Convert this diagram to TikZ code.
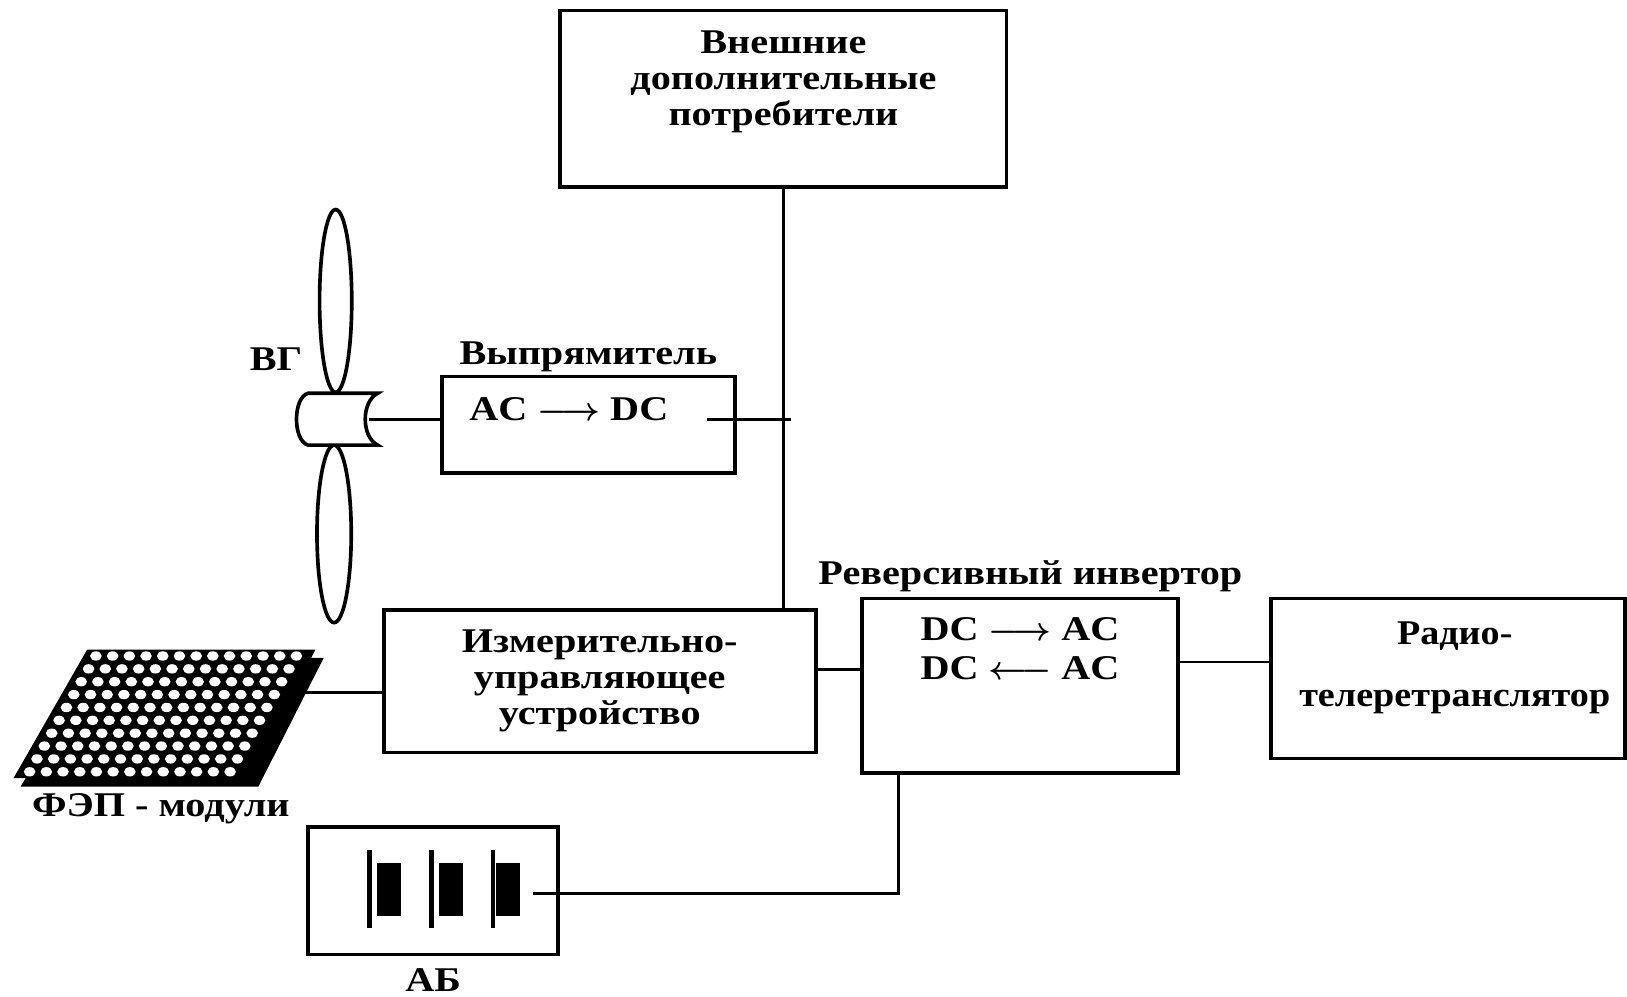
\documentclass[tikz,border=0pt]{standalone}
\usepackage{fontspec}
\setmainfont{Liberation Serif}[FakeStretch=1.16]
\newfontfamily\radiofont{Liberation Serif}[FakeStretch=1.1]
\usetikzlibrary{positioning,calc}
\tikzset{>=stealth}
\tikzset{blk/.style={draw,rectangle,line width=1pt,inner sep=0pt},
         lbl/.style={inner sep=0pt,align=center,font=\bfseries\boldmath\fontsize{9.5}{9.9}\selectfont}}

\begin{document}
\begin{tikzpicture}[x=0.01cm,y=-0.01cm,line width=0.8pt]
    \useasboundingbox (0,0) rectangle (1568,960);
    % blocks
    \node[blk,minimum width=4.30cm,minimum height=1.70cm] (ext) at (755,95) {};
    \node[lbl,below=0.2cm of ext.north] (exttxt) {Внешние\\дополнительные\\потребители};
    \node[blk,minimum width=2.82cm,minimum height=0.93cm] (rect) at (567,409.5) {};
    \node[lbl,above=0.01cm of rect] (recttxt) {Выпрямитель};
    \node[lbl,anchor=west] (acdc) at (451,394) {AC $\longrightarrow$ DC};
    \node[blk,lbl,minimum width=4.16cm,minimum height=1.37cm] (meas) at (578,656.5) {Измерительно-\\управляющее\\устройство};
    \node[blk,minimum width=3.04cm,minimum height=1.68cm] (inv) at (983,661) {};
    \node[lbl,above=0.03cm of inv.north,xshift=0.1cm] (invtxt) {Реверсивный инвертор};
    \node[lbl,below=0.19cm of inv.north] (dcac) {DC $\longrightarrow$ AC\\[0.02cm]DC $\longleftarrow$ AC};
    \node[blk,minimum width=3.41cm,minimum height=1.54cm] (radio) at (1395.5,654) {};
    \node[lbl,font=\bfseries\radiofont\fontsize{9.5}{9.9}\selectfont] (radiotxt) at (1402,644) {Радио-\\[0.25cm]телеретранслятор};
    \node[blk,minimum width=2.41cm,minimum height=1.23cm] (ab) at (417.5,858.5) {};
    \node[lbl,below=0.1cm of ab] (abtxt) {АБ};

    % battery cells
    \foreach \p/\q in {356/363,416/423,475/478} {
        \draw[line width=1.3pt] (\p,819) -- (\p,894);
        \fill (\q,832) rectangle (\q+23,883);
    }
    \coordinate (abterm) at (514,861);

    % wind generator
    \draw[line width=1pt] (323.5,290) ellipse [x radius=0.155cm, y radius=0.88cm];
    \draw[line width=1pt] (322,514.5) ellipse [x radius=0.165cm, y radius=0.855cm];
    \draw[line width=1pt,fill=white] (297,379) -- (364,379) .. controls (348,387) and (348,421) .. (364,429)
        -- (297,429) .. controls (282,425) and (282,383) .. (297,379) -- cycle;
    \coordinate (hub) at (356,404);
    \node[lbl] (vg) at (266,346) {ВГ};

    % solar modules
    \fill (92,634) -- (312,634) -- (249,758) -- (20,758) -- cycle;
    \fill (84,626) -- (304,626) -- (241,750) -- (13,750) -- cycle;
    \foreach \r in {0,...,9}
        \foreach \c in {0,...,12}
            \fill[white] ({84-(\r+0.5)*12.4*71/124+12+\c*16.1},{626+(\r+0.5)*12.4})
                ellipse [x radius=0.056cm, y radius=0.045cm];
    \coordinate (pv) at (290,667);
    \node[lbl] (pvtxt) at (155,779) {ФЭП - модули};

    % connections
    \coordinate (rectout) at (681,404);
    \coordinate (busend) at (762,404);
    \path
        (ext.south) edge (ext.south |- meas.north)
        (hub) edge (hub -| rect.west)
        (rectout) edge (busend)
        (pv) edge (pv -| meas.west)
        ([yshift=0.115cm]meas.east) edge ([yshift=0.115cm]meas.east -| inv.west)
        ([yshift=0.23cm]inv.east) edge ([yshift=0.23cm]inv.east -| radio.west)
        ;
    \draw (abterm) -| ([xshift=-1.17cm]inv.south);
\end{tikzpicture}
\end{document}
